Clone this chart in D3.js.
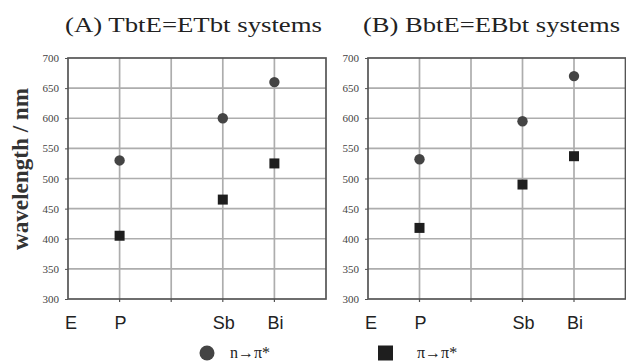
<!DOCTYPE html>
<html>
<head>
<meta charset="utf-8">
<script src="https://cdn.jsdelivr.net/npm/d3@7"></script>
<style>
  body { margin: 0; background: #fff; }
  svg { display: block; }
</style>
</head>
<body>
<svg id="chart" width="626" height="362"></svg>
<script>
// categories on the x axis and their slot in the 5-column grid
const categories = ["E", "P", "Sb", "Bi"];
const categorySlots = [0, 1, 3, 4];
const gridColumns = [0, 1, 2, 3, 4, 5];

// the plotted elements (no value for E)
const seriesCategories = ["P", "Sb", "Bi"];

// (A) TbtE=ETbt systems
const aNPi = [530, 600, 660];
const aPiPi = [405, 465, 525];

// (B) BbtE=EBbt systems
const bNPi = [532, 595, 670];
const bPiPi = [418, 490, 537];

const yTicks = [300, 350, 400, 450, 500, 550, 600, 650, 700];

const panels = [
  { title: "(A) TbtE=ETbt systems", left: 68, right: 326, npi: aNPi, pipi: aPiPi, titleX: 65 },
  { title: "(B) BbtE=EBbt systems", left: 368, right: 625.5, npi: bNPi, pipi: bPiPi, titleX: 363 }
];

const plotTop = 58, plotBottom = 299;
const svg = d3.select("#chart");

const y = d3.scaleLinear().domain([300, 700]).range([plotBottom, plotTop]);

panels.forEach(p => {
  const x = d3.scaleLinear().domain([0, 5]).range([p.left, p.right]);
  const slotOf = c => categorySlots[categories.indexOf(c)];
  const g = svg.append("g");

  // title
  g.append("text")
    .attr("x", p.titleX)
    .attr("y", 32)
    .attr("font-family", "'Liberation Serif', 'Times New Roman', serif")
    .attr("font-size", 21)
    .attr("fill", "#222")
    .attr("textLength", 257)
    .attr("lengthAdjust", "spacingAndGlyphs")
    .text(p.title);

  // grid lines
  g.selectAll(".hgrid")
    .data(yTicks.slice(1, -1))
    .enter().append("line")
    .attr("x1", p.left).attr("x2", p.right)
    .attr("y1", d => y(d)).attr("y2", d => y(d))
    .attr("stroke", "#adadad").attr("stroke-width", 1.7);

  g.selectAll(".vgrid")
    .data(gridColumns.slice(1, -1))
    .enter().append("line")
    .attr("x1", d => x(d)).attr("x2", d => x(d))
    .attr("y1", plotTop).attr("y2", plotBottom)
    .attr("stroke", "#adadad").attr("stroke-width", 1.7);

  // frame
  g.append("rect")
    .attr("x", p.left).attr("y", plotTop)
    .attr("width", p.right - p.left).attr("height", plotBottom - plotTop)
    .attr("fill", "none").attr("stroke", "#555").attr("stroke-width", 1.7);

  // small ticks under bottom edge
  g.selectAll(".btick")
    .data(gridColumns.slice(1, -1))
    .enter().append("line")
    .attr("x1", d => x(d)).attr("x2", d => x(d))
    .attr("y1", plotBottom).attr("y2", plotBottom + 3)
    .attr("stroke", "#555").attr("stroke-width", 1.2);

  // y axis labels
  const yAxis = d3.axisLeft(y).tickValues(yTicks).tickSize(3).tickPadding(6);
  const ya = g.append("g")
    .attr("transform", `translate(${p.left},0)`)
    .call(yAxis);
  ya.select(".domain").remove();
  ya.selectAll(".tick line").attr("stroke", "#555");
  ya.selectAll(".tick text")
    .attr("font-family", "'Liberation Serif', 'Times New Roman', serif")
    .attr("font-size", 11)
    .attr("fill", "#444");

  // x category labels
  g.selectAll(".xlab")
    .data(categories)
    .enter().append("text")
    .attr("x", d => x(slotOf(d)) + (d === "E" ? 3 : 1))
    .attr("y", 329)
    .attr("text-anchor", "middle")
    .attr("font-family", "'Liberation Sans', Arial, sans-serif")
    .attr("font-size", 18)
    .attr("fill", "#222")
    .text(d => d);

  // n -> pi* circles
  g.selectAll(".npi")
    .data(seriesCategories)
    .enter().append("circle")
    .attr("cx", d => x(slotOf(d)))
    .attr("cy", (d, i) => y(p.npi[i]))
    .attr("r", 5.2)
    .attr("fill", "#444");

  // pi -> pi* squares
  g.selectAll(".pipi")
    .data(seriesCategories)
    .enter().append("rect")
    .attr("x", d => x(slotOf(d)) - 5)
    .attr("y", (d, i) => y(p.pipi[i]) - 5)
    .attr("width", 10).attr("height", 10)
    .attr("fill", "#1e1e1e");
});

// y axis title
svg.append("text")
  .attr("transform", "translate(28,169) rotate(-90)")
  .attr("text-anchor", "middle")
  .attr("font-family", "'Liberation Serif', 'Times New Roman', serif")
  .attr("font-weight", "bold")
  .attr("font-size", 23)
  .attr("fill", "#333")
  .attr("textLength", 162)
  .attr("lengthAdjust", "spacingAndGlyphs")
  .text("wavelength / nm");

// legend
const legend = svg.append("g");
legend.append("circle").attr("cx", 207).attr("cy", 353).attr("r", 7.5).attr("fill", "#444");
legend.append("text")
  .attr("x", 230).attr("y", 358)
  .attr("font-family", "'Liberation Serif', 'Times New Roman', serif")
  .attr("font-size", 16).attr("fill", "#222")
  .text("n\u2192\u03c0*");
legend.append("rect").attr("x", 378).attr("y", 345.5).attr("width", 15).attr("height", 15).attr("fill", "#1e1e1e");
legend.append("text")
  .attr("x", 417).attr("y", 358)
  .attr("font-family", "'Liberation Serif', 'Times New Roman', serif")
  .attr("font-size", 16).attr("fill", "#222")
  .text("\u03c0\u2192\u03c0*");
</script>
</body>
</html>
